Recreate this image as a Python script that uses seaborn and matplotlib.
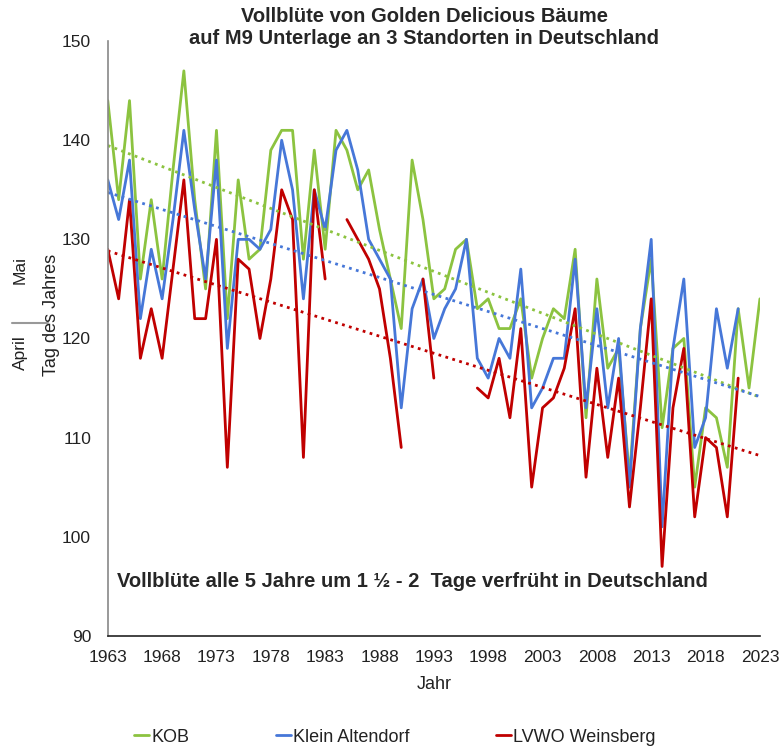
import numpy as np
import pandas as pd
import matplotlib
matplotlib.use("Agg")
import matplotlib.pyplot as plt
from matplotlib.lines import Line2D
import seaborn as sns

# ------------------------------------------
# Daten (Tag des Jahres der Vollblüte)
# ------------------------------------------
jahre = list(range(1963, 2024))
nan = np.nan

kob = [144, 134, 144, 126, 134, 126, 137, 147, 134, 125,
       141, 122, 136, 128, 129, 139, 141, 141, 128, 139,
       129, 141, 139, 135, 137, 131, 126, 121, 138, 132,
       124, 125, 129, 130, 123, 124, 121, 121, 124, 116,
       120, 123, 122, 129, 112, 126, 117, 119, 106, 121,
       128, 111, 119, 120, 105, 113, 112, 107, 123, 115,
       124]

klein_altendorf = [136, 132, 138, 122, 129, 124, 132, 141, 133, 126,
                   138, 119, 130, 130, 129, 131, 140, 135, 124, 135,
                   131, 139, 141, 137, 130, 128, 126, 113, 123, 126,
                   120, 123, 125, 130, 118, 116, 120, 118, 127, 113,
                   115, 118, 118, 128, 113, 123, 113, 120, 105, 121,
                   130, 101, 119, 126, 109, 112, 123, 117, 123, nan,
                   nan]

weinsberg = [129, 124, 134, 118, 123, 118, 127, 136, 122, 122,
             130, 107, 128, 127, 120, 126, 135, 132, 108, 135,
             126, nan, 132, 130, 128, 125, 118, 109, nan, 126,
             116, nan, nan, nan, 115, 114, 118, 112, 121, 105,
             113, 114, 117, 123, 106, 117, 108, 116, 103, 113,
             124, 97, 113, 119, 102, 110, 109, 102, 116, nan,
             nan]

stationen = ["KOB", "Klein Altendorf", "LVWO Weinsberg"]
farben = ["#8CC340", "#4677D8", "#C00000"]

# langes Format, Lücken als eigene Segmente
frames = []
for name, werte in zip(stationen, [kob, klein_altendorf, weinsberg]):
    d = pd.DataFrame({"Jahr": jahre, "Tag": werte})
    d["seg"] = d["Tag"].isna().cumsum()
    d["Station"] = name
    frames.append(d.dropna())
df = pd.concat(frames, ignore_index=True)

# ------------------------------------------
# Plot
# ------------------------------------------
sns.set_style("white")
plt.rcParams["font.family"] = ["Liberation Sans", "DejaVu Sans"]

fig = plt.figure(figsize=(7.81, 7.48), dpi=100)
ax = fig.add_axes([0.138, 0.150, 0.835, 0.795])
ax.set_xlim(1963, 2023)
ax.set_ylim(90, 150)

sns.lineplot(data=df, x="Jahr", y="Tag", hue="Station", units="seg",
             estimator=None, palette=dict(zip(stationen, farben)),
             linewidth=2.0, legend=False, ax=ax)

# lineare Trendlinien (gepunktet)
for name, farbe in zip(stationen, farben):
    sub = df[df["Station"] == name]
    sns.regplot(data=sub, x="Jahr", y="Tag", scatter=False, ci=None,
                truncate=False, color=farbe, ax=ax,
                line_kws=dict(ls=(0, (1, 1.6)), lw=2.0))

ax.set_xlim(1963, 2023)
ax.set_ylim(90, 150)
ax.set_xticks(range(1963, 2024, 5))
ax.set_yticks(range(90, 151, 10))
ax.tick_params(axis="both", direction="in", length=5, labelsize=12.5,
               labelcolor="#222222")
ax.tick_params(axis="x", colors="#222222", labelcolor="#222222", pad=10.5)
ax.tick_params(axis="y", colors="#888888", labelcolor="#222222", pad=12)

for s in ["top", "right"]:
    ax.spines[s].set_visible(False)
ax.spines["left"].set_color("#888888")
ax.spines["bottom"].set_color("#222222")
ax.spines["left"].set_linewidth(1.2)
ax.spines["bottom"].set_linewidth(1.2)

ax.set_xlabel("Jahr", fontsize=13, color="#222222", labelpad=8)
ax.set_ylabel("Tag des Jahres", fontsize=13, color="#222222")
ax.yaxis.set_label_coords(-0.073, 0.54)

fig.text(0.543, 0.9635, "Vollblüte von Golden Delicious Bäume\n"
         "auf M9 Unterlage an 3 Standorten in Deutschland",
         ha="center", va="center", fontsize=14.5, fontweight="bold",
         linespacing=1.2)

ax.text(0.014, 0.091, "Vollblüte alle 5 Jahre um 1 ½ - 2  Tage verfrüht in Deutschland",
        transform=ax.transAxes, fontsize=14.5, fontweight="bold", va="center")

# April / Mai Kennzeichnung
fig.text(20 / 781, 1 - 353 / 748, "April", rotation=90, ha="center",
         va="center", fontsize=12.5, color="#222222")
fig.text(20 / 781, 1 - 270 / 748, "Mai", rotation=90, ha="center",
         va="center", fontsize=12.5, color="#222222")
fig.add_artist(Line2D([12 / 781, 48 / 781], [1 - 323 / 748, 1 - 323 / 748],
                      color="#999999", lw=1.5, transform=fig.transFigure))

handles = [Line2D([], [], color=c, lw=2.0) for c in farben]
fig.legend(handles, stationen, loc="center left",
           bbox_to_anchor=(134 / 781, 1 - 737 / 748), ncol=3, frameon=False,
           fontsize=13, handlelength=0.85, handletextpad=0.1,
           columnspacing=4.8, borderpad=0, borderaxespad=0,
           labelcolor="#222222")

fig.savefig("out.png", dpi=100)
